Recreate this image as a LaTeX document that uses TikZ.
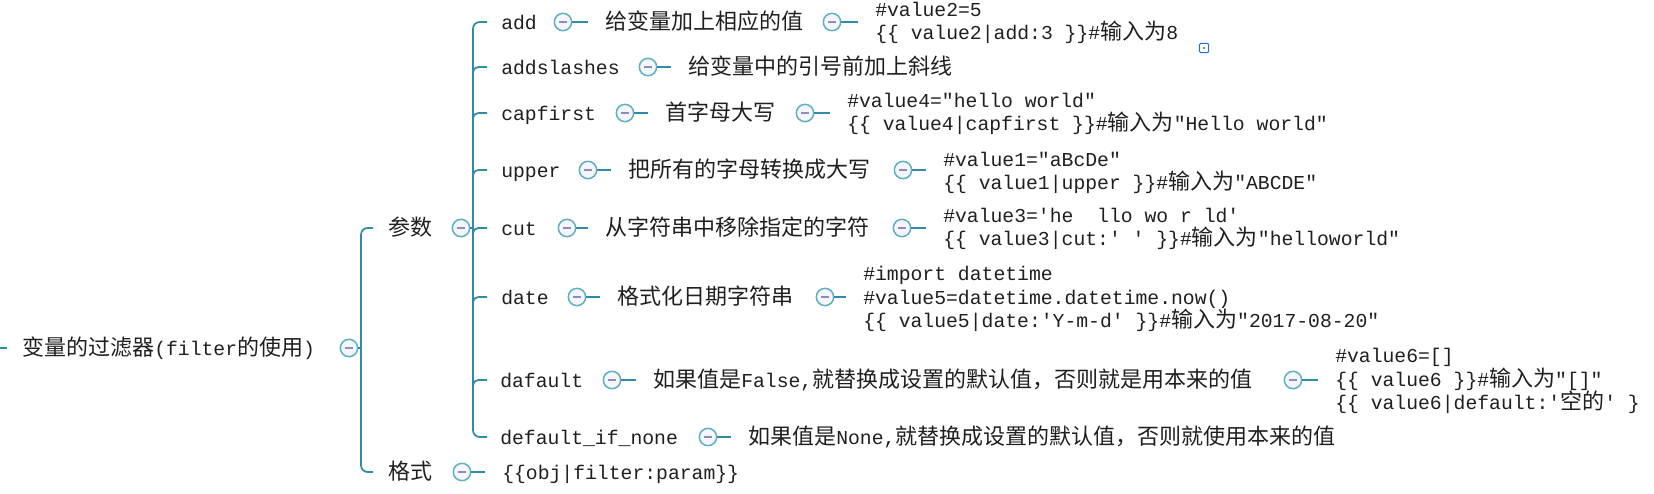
\documentclass[tikz,border=0pt]{standalone}
\usepackage{fontspec}
\setmonofont{Liberation Mono}
\newfontfamily\cjkf{Noto Sans CJK SC}
\newcommand\zh[1]{{\fontsize{16.5}{17.6}\cjkf #1}}
\newcommand\mtxt{\fontsize{14.8}{17.6}\selectfont\ttfamily}
\definecolor{br}{HTML}{2F8CA8}
\definecolor{ring}{HTML}{5AAFC2}
\definecolor{minus}{HTML}{8C8CC4}
\definecolor{togfill}{HTML}{F6F6FA}
\definecolor{tc}{HTML}{1F1F1F}
\definecolor{noteblue}{HTML}{2A6FD6}
\tikzset{
  x=0.75pt, y=-0.75pt,
  brline/.style={draw=br, line width=1.3pt},
  lbl/.style={anchor=base west, inner sep=0pt, font=\mtxt, text=tc},
  code/.style={anchor=west, inner sep=0pt, font=\mtxt, text=tc, align=left},
  tog/.style={circle, draw=ring, line width=1.1pt, fill=togfill, minimum size=13pt, inner sep=0pt,
    path picture={\draw[minus, line width=0.9pt] ([xshift=-3pt]path picture bounding box.center) -- ([xshift=3pt]path picture bounding box.center);}},
  note/.style={draw=noteblue, line width=0.8pt, rounded corners=1pt, minimum size=7pt, inner sep=0pt, fill=white},
}
\begin{document}
\begin{tikzpicture}
\useasboundingbox (0,0) rectangle (1654,493);

% root
\coordinate (stubA) at (0,348);
\coordinate (stubB) at (7,348);
\draw[brline] (stubA) -- (stubB);
\node[lbl] (root) at (22,355) {\zh{变量的过滤器}(filter\zh{的使用})};
\node[tog] (rootc) at (349,348) {};

% level 1 bar
\coordinate (k1) at (361,228);
\coordinate (k2) at (361,472);
\draw[brline, rounded corners=5pt] ([xshift=9pt]k1) -- (k1) -- (k2) -- ([xshift=9pt]k2);
\draw[brline] (rootc.east) -- (rootc.east -| k1);

% 参数
\node[lbl] (cs) at (388,235) {\zh{参数}};
\node[tog] (csc) at (461,228) {};
% 格式
\node[lbl] (gs) at (388,479) {\zh{格式}};
\node[tog] (gsc) at (462,472) {};
\node[lbl] (gst) at (502,479) {\{\{obj|filter:param\}\}};
\draw[brline] (gsc.east) -- ([xshift=-12.75pt]gsc.east -| gst.west);

% level 2 bar
\coordinate (j1) at (473,22);
\coordinate (j2) at (473,67);
\coordinate (j3) at (473,113);
\coordinate (j4) at (473,170);
\coordinate (j5) at (473,228);
\coordinate (j6) at (473,297);
\coordinate (j7) at (473,380);
\coordinate (j8) at (473,437);
\draw[brline] (csc.east) -- (csc.east -| j5);
\draw[brline, rounded corners=5pt] ([xshift=10.5pt]j1) -- (j1) -- (j8) -- ([xshift=10.5pt]j8);
\foreach \j in {j2,j3,j4,j5,j6,j7}{
  \draw[brline, rounded corners=4pt] ([yshift=-7pt]\j) -- (\j) -- ([xshift=10.5pt]\j);
}

% row 1 add
\node[lbl] (l1) at (501,29) {add};
\node[tog] (c1) at (563,22) {};
\node[lbl] (t1) at (605,29) {\zh{给变量加上相应的值}};
\draw[brline] (c1.east) -- ([xshift=-12.75pt]c1.east -| t1.west);
\node[tog] (d1) at (832,22) {};
\node[code] (k1c) at (875,23) {\#value2=5\\\{\{ value2|add:3 \}\}\#\zh{输入为}8};
\draw[brline] (d1.east) -- ([xshift=-12.75pt]d1.east -| k1c.west);
\node[note] (noteicon) at (1204,48) {};
\fill[noteblue] (noteicon.center) circle (0.9pt);

% row 2 addslashes
\node[lbl] (l2) at (501,74) {addslashes};
\node[tog] (c2) at (648,67) {};
\node[lbl] (t2) at (688,74) {\zh{给变量中的引号前加上斜线}};
\draw[brline] (c2.east) -- ([xshift=-12.75pt]c2.east -| t2.west);

% row 3 capfirst
\node[lbl] (l3) at (501,120) {capfirst};
\node[tog] (c3) at (625,113) {};
\node[lbl] (t3) at (665,120) {\zh{首字母大写}};
\draw[brline] (c3.east) -- ([xshift=-12.75pt]c3.east -| t3.west);
\node[tog] (d3) at (805,113) {};
\node[code] (k3c) at (847,114) {\#value4="hello world"\\\{\{ value4|capfirst \}\}\#\zh{输入为}"Hello world"};
\draw[brline] (d3.east) -- ([xshift=-12.75pt]d3.east -| k3c.west);

% row 4 upper
\node[lbl] (l4) at (501,177) {upper};
\node[tog] (c4) at (588,170) {};
\node[lbl] (t4) at (628,177) {\zh{把所有的字母转换成大写}};
\draw[brline] (c4.east) -- ([xshift=-12.75pt]c4.east -| t4.west);
\node[tog] (d4) at (903,170) {};
\node[code] (k4c) at (943,173) {\#value1="aBcDe"\\\{\{ value1|upper \}\}\#\zh{输入为}"ABCDE"};
\draw[brline] (d4.east) -- ([xshift=-12.75pt]d4.east -| k4c.west);

% row 5 cut
\node[lbl] (l5) at (501,235) {cut};
\node[tog] (c5) at (567,228) {};
\node[lbl] (t5) at (605,235) {\zh{从字符串中移除指定的字符}};
\draw[brline] (c5.east) -- ([xshift=-12.75pt]c5.east -| t5.west);
\node[tog] (d5) at (902,228) {};
\node[code] (k5c) at (943,229) {\#value3='he\ \ llo wo r ld'\\\{\{ value3|cut:' ' \}\}\#\zh{输入为}"helloworld"};
\draw[brline] (d5.east) -- ([xshift=-12.75pt]d5.east -| k5c.west);

% row 6 date
\node[lbl] (l6) at (501,304) {date};
\node[tog] (c6) at (577,297) {};
\node[lbl] (t6) at (617,304) {\zh{格式化日期字符串}};
\draw[brline] (c6.east) -- ([xshift=-12.75pt]c6.east -| t6.west);
\node[tog] (d6) at (825,297) {};
\node[code] (k6c) at (863,299) {\#import datetime\\\#value5=datetime.datetime.now()\\\{\{ value5|date:'Y-m-d' \}\}\#\zh{输入为}"2017-08-20"};
\draw[brline] (d6.east) -- ([xshift=-12.75pt]d6.east -| k6c.west);

% row 7 dafault
\node[lbl] (l7) at (500,387) {dafault};
\node[tog] (c7) at (612,380) {};
\node[lbl] (t7) at (653,387) {\zh{如果值是}False,\zh{就替换成设置的默认值，否则就是用本来的值}};
\draw[brline] (c7.east) -- ([xshift=-12.75pt]c7.east -| t7.west);
\node[tog] (d7) at (1293,380) {};
\node[code] (k7c) at (1335,381) {\#value6=[]\\\{\{ value6 \}\}\#\zh{输入为}"[]"\\\{\{ value6|default:'\zh{空的}' \}};
\draw[brline] (d7.east) -- ([xshift=-12.75pt]d7.east -| k7c.west);

% row 8 default_if_none
\node[lbl] (l8) at (500,444) {default\_if\_none};
\node[tog] (c8) at (708,437) {};
\node[lbl] (t8) at (748,444) {\zh{如果值是}None,\zh{就替换成设置的默认值，否则就使用本来的值}};
\draw[brline] (c8.east) -- ([xshift=-12.75pt]c8.east -| t8.west);
\end{tikzpicture}
\end{document}
